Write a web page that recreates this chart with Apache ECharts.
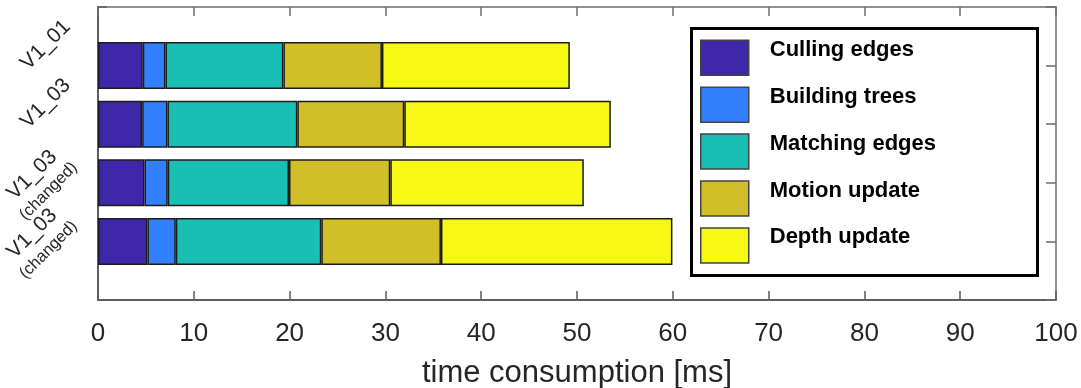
<!DOCTYPE html>
<html>
<head>
<meta charset="utf-8">
<script src="https://cdn.jsdelivr.net/npm/echarts@6/dist/echarts.min.js"></script>
<style>
html,body{margin:0;padding:0;background:#fff;}
#c{width:1081px;height:388px;}
</style>
</head>
<body>
<div id="c"></div>
<script>
// ---- data ----
const categories = ['V1_01', 'V1_03', 'V1_03\n(changed)', 'V1_03\n(changed)'];
const seriesNames = ['Culling edges', 'Building trees', 'Matching edges', 'Motion update', 'Depth update'];
const cullingEdges  = [4.67, 4.61, 4.85, 5.16];
const buildingTrees = [2.37, 2.64, 2.43, 2.96];
const matchingEdges = [12.31, 13.56, 12.66, 15.19];
const motionUpdate  = [10.29, 11.16, 10.57, 12.49];
const depthUpdate   = [19.61, 21.56, 20.20, 24.16];
const xTicks = [0, 10, 20, 30, 40, 50, 60, 70, 80, 90, 100];
const xTitle = 'time consumption [ms]';

// ---- styling ----
const colors = ['#3E27A8', '#3380FF', '#1ABFB4', '#D1BF29', '#F6F916'];
const seriesValues = [cullingEdges, buildingTrees, matchingEdges, motionUpdate, depthUpdate];
const FONT = "'Liberation Sans', Arial, Helvetica, sans-serif";
const axisGray = '#5e5e5e';

// padded category list so the frame edges sit half a slot outside the bars
const yData = [''].concat(categories, ['']);

const chart = echarts.init(document.getElementById('c'), null, {renderer: 'canvas'});

const series = seriesNames.map((name, k) => ({
  name: name,
  type: 'bar',
  stack: 'total',
  xAxisIndex: 0,
  yAxisIndex: 0,
  barWidth: 47,
  data: [null].concat(seriesValues[k], [null]),
  itemStyle: {color: colors[k], borderColor: '#1c1c1c', borderWidth: 1.5},
  emphasis: {disabled: true}
}));

const option = {
  animation: false,
  backgroundColor: '#ffffff',
  textStyle: {fontFamily: FONT},
  grid: {left: 98, right: 25, top: 7, bottom: 88, outerBoundsMode: 'none', containLabel: false},
  graphic: [{
    type: 'rect',
    z: 1,
    shape: {x: 691.5, y: 28.5, width: 346, height: 247},
    style: {fill: '#ffffff', stroke: '#000000', lineWidth: 3}
  }],
  legend: {
    orient: 'vertical',
    left: 700,
    top: 38.8,
    padding: 0,
    itemWidth: 48,
    itemHeight: 35,
    itemGap: 8.9,
    icon: 'rect',
    selectedMode: false,
    z: 10,
    data: seriesNames,
    itemStyle: {borderColor: '#444444', borderWidth: 1.5},
    formatter: function (name) { return '{a|' + name + '}'; },
    textStyle: {
      fontFamily: FONT, fontSize: 22, fontWeight: 'bold', color: '#000000',
      rich: {
        a: {fontFamily: FONT, fontSize: 22, fontWeight: 'bold', color: '#000000',
            lineHeight: 17, padding: [0, 0, 16, 16]}
      }
    }
  },
  xAxis: [{
    type: 'value',
    position: 'bottom',
    min: xTicks[0],
    max: xTicks[xTicks.length - 1],
    interval: xTicks[1] - xTicks[0],
    name: xTitle,
    nameLocation: 'middle',
    nameGap: 58,
    nameTextStyle: {fontFamily: FONT, fontSize: 31, color: '#262626'},
    axisLine: {show: true, onZero: false, lineStyle: {color: axisGray, width: 2}},
    axisTick: {show: true, inside: true, length: 9, lineStyle: {color: axisGray, width: 1.5}},
    axisLabel: {show: true, margin: 21, fontFamily: FONT, fontSize: 26, color: '#262626'},
    splitLine: {show: false}
  }, {
    type: 'value',
    position: 'top',
    min: xTicks[0],
    max: xTicks[xTicks.length - 1],
    interval: xTicks[1] - xTicks[0],
    axisLine: {show: true, onZero: false, lineStyle: {color: '#6e6e6e', width: 1.5}},
    axisTick: {show: true, inside: true, length: 9, lineStyle: {color: '#6e6e6e', width: 1.5}},
    axisLabel: {show: false},
    splitLine: {show: false}
  }],
  yAxis: [{
    type: 'category',
    position: 'left',
    inverse: true,
    boundaryGap: false,
    data: yData,
    axisLine: {show: true, onZero: false, lineStyle: {color: axisGray, width: 2}},
    axisTick: {show: true, inside: true, length: 9, interval: 0, lineStyle: {color: axisGray, width: 1.5}},
    axisLabel: {
      show: true,
      interval: 0,
      rotate: 45,
      margin: 58,
      align: 'center',
      verticalAlign: 'middle',
      color: '#262626',
      fontFamily: FONT,
      formatter: function (value) {
        if (!value) return '';
        const parts = value.split('\n');
        if (parts.length === 1) return '{s|' + parts[0] + '}';
        return '{m|' + parts[0] + '}\n{c|' + parts[1] + '}';
      },
      rich: {
        s: {fontFamily: FONT, fontSize: 21, color: '#262626', lineHeight: 22, padding: [0, 0, 21, 37]},
        m: {fontFamily: FONT, fontSize: 21, color: '#262626', lineHeight: 24},
        c: {fontFamily: FONT, fontSize: 16.5, color: '#262626', lineHeight: 22}
      }
    },
    splitLine: {show: false}
  }, {
    type: 'category',
    position: 'right',
    inverse: true,
    boundaryGap: false,
    data: yData,
    axisLine: {show: true, onZero: false, lineStyle: {color: '#6e6e6e', width: 1.5}},
    axisTick: {show: true, inside: true, length: 10, interval: 0, lineStyle: {color: '#6e6e6e', width: 1.5}},
    axisLabel: {show: false},
    splitLine: {show: false}
  }],
  series: series
};

chart.setOption(option);
</script>
</body>
</html>
